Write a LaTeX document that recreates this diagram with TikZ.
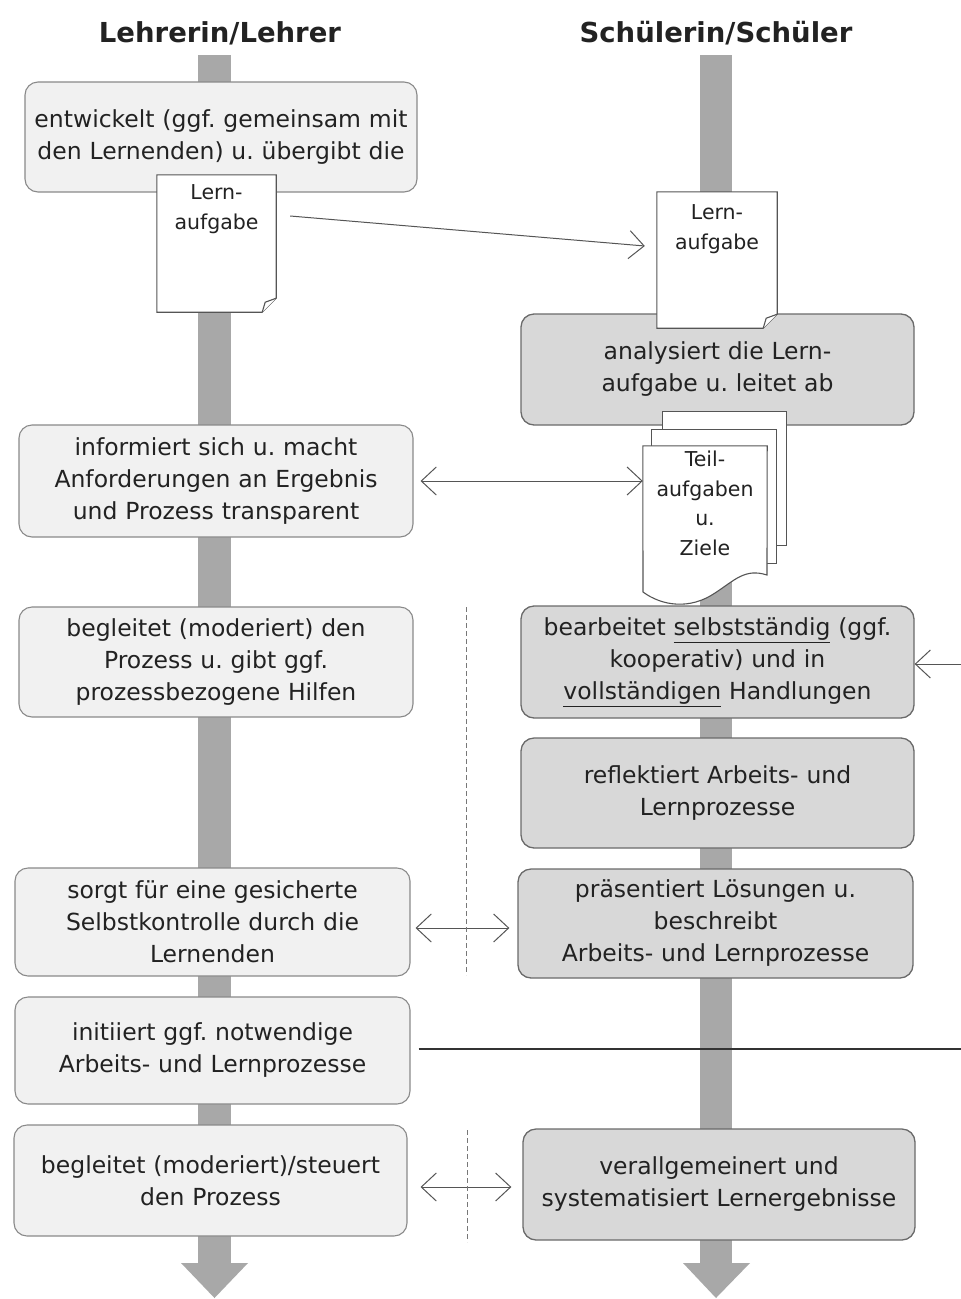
\documentclass[tikz,border=0pt]{standalone}
\usepackage{fontspec}
\setmainfont{DejaVu Sans}
\usetikzlibrary{arrows.meta}
\frenchspacing
\definecolor{txt}{HTML}{222222}
\definecolor{fillL}{HTML}{F1F1F1}
\definecolor{edgeL}{HTML}{8A8A8A}
\definecolor{fillR}{HTML}{D8D8D8}
\definecolor{edgeR}{HTML}{6A6A6A}
\definecolor{barc}{HTML}{A8A8A8}
\definecolor{linec}{HTML}{555555}
\tikzset{
  boxtext/.style={text=txt, font=\fontsize{23.5}{32}\selectfont, align=center, text width=386pt, inner sep=0pt},
  lbox/.style={boxtext, draw=edgeL, fill=fillL, rounded corners=13pt, line width=1.1pt},
  rbox/.style={boxtext, draw=edgeR, fill=fillR, rounded corners=13pt, line width=1.3pt},
  docshape/.style={inner sep=0pt},
  docline/.style={draw=linec, fill=white, line width=1.1pt},
  doctext/.style={text=txt, font=\fontsize{20.5}{29.5}\selectfont, align=center, inner sep=0pt},
  head/.style={text=txt, font=\fontsize{27.5}{30}\selectfont\bfseries},
  conn/.style={draw=linec, line width=1pt},
  barb/.style={-{Straight Barb[length=15pt, width=28pt, line width=1pt]}},
  dbarb/.style={{Straight Barb[length=15pt, width=28pt, line width=1pt]}-{Straight Barb[length=15pt, width=28pt, line width=1pt]}},
  dashv/.style={draw=linec!80, line width=0.8pt, dash pattern=on 5pt off 3pt},
  fbline/.style={draw=black!80, line width=2pt},
}
\begin{document}
\begin{tikzpicture}[x=1pt, y=-1pt]
\useasboundingbox (0,0) rectangle (961,1299);
\fill[white] (0,0) rectangle (961,1299);

% headers
\node[head] (hl) at (220,33) {Lehrerin/Lehrer};
\node[head] (hr) at (716,33) {Schülerin/Schüler};

% process bars
\fill[barc] (198,55) rectangle (231,1264);
\fill[barc] (181,1263) -- (248,1263) -- (214.5,1298) -- cycle;
\fill[barc] (700,55) rectangle (732,1264);
\fill[barc] (683,1263) -- (750,1263) -- (716,1298) -- cycle;

% left column
\node[lbox, minimum width=392pt, minimum height=110pt] (L1) at (221,137)
  {entwickelt (ggf. gemeinsam mit\\den Lernenden) u. übergibt die};
\node[lbox, minimum width=394pt, minimum height=112pt] (L2) at (216,481)
  {informiert sich u. macht\\Anforderungen an Ergebnis\\und Prozess transparent};
\node[lbox, minimum width=394pt, minimum height=110pt] (L3) at (216,662)
  {begleitet (moderiert) den\\Prozess u. gibt ggf.\\prozessbezogene Hilfen};
\node[lbox, minimum width=395pt, minimum height=108pt] (L4) at (212.5,922)
  {sorgt für eine gesicherte\\Selbstkontrolle durch die\\Lernenden};
\node[lbox, minimum width=395pt, minimum height=107pt] (L5) at (212.5,1050.5)
  {initiiert ggf. notwendige\\Arbeits- und Lernprozesse};
\node[lbox, minimum width=393pt, minimum height=111pt] (L6) at (210.5,1180.5)
  {begleitet (moderiert)/steuert\\den Prozess};

% right column
\node[rbox, minimum width=393pt, minimum height=111pt] (R1) at (717.5,369.5)
  {analysiert die Lern-\\aufgabe u. leitet ab};
\node[rbox, minimum width=393pt, minimum height=112pt] (R2) at (717.5,662)
  {bearbeitet \underline{selbstständig} (ggf.\\kooperativ) und in\\\underline{vollständigen} Handlungen};
\node[rbox, minimum width=393pt, minimum height=110pt] (R3) at (717.5,793)
  {reflektiert Arbeits- und\\Lernprozesse};
\node[rbox, minimum width=395pt, minimum height=109pt] (R4) at (715.5,923.5)
  {präsentiert Lösungen u.\\beschreibt\\Arbeits- und Lernprozesse};
\node[rbox, minimum width=392pt, minimum height=111pt] (R5) at (719,1184.5)
  {verallgemeinert und\\systematisiert Lernergebnisse};

% left document
\node[docshape, minimum width=119pt, minimum height=137pt] (docL) at (216.5,243.5) {};
\path[docline] (docL.north west) -- (docL.north east) -- ([yshift=14pt]docL.south east)
  -- ([xshift=-14pt]docL.south east) -- (docL.south west) -- cycle;
\path[docline] ([yshift=14pt]docL.south east) -- ([xshift=-11pt,yshift=10pt]docL.south east)
  -- ([xshift=-14pt]docL.south east);
\node[doctext, anchor=north] (docLt) at ([yshift=-10pt]docL.north) {Lern-\\aufgabe};

% right document
\node[docshape, minimum width=120pt, minimum height=136pt] (docR) at (717,260) {};
\path[docline] (docR.north west) -- (docR.north east) -- ([yshift=14pt]docR.south east)
  -- ([xshift=-14pt]docR.south east) -- (docR.south west) -- cycle;
\path[docline] ([yshift=14pt]docR.south east) -- ([xshift=-11pt,yshift=10pt]docR.south east)
  -- ([xshift=-14pt]docR.south east);
\node[doctext, anchor=north] (docRt) at ([yshift=-13pt]docR.north) {Lern-\\aufgabe};

% stacked documents
\node[docshape, minimum width=123pt, minimum height=133pt] (teilB) at (724.5,478.5) {};
\path[docline] (teilB.north west) rectangle (teilB.south east);
\node[docshape, minimum width=124pt, minimum height=133pt] (teilM) at (714,496.5) {};
\path[docline] (teilM.north west) rectangle (teilM.south east);
\node[docshape, minimum width=124pt, minimum height=130pt] (teilF) at (705,511) {};
\path[docline] (teilF.north west) -- (teilF.north east) -- (767,575)
  .. controls (745,568) and (735,580) .. (715,593)
  .. controls (690,610) and (662,606) .. (643,592) -- cycle;
\node[doctext, anchor=north] (teilT) at ([yshift=-5pt]teilF.north) {Teil-\\aufgaben\\u.\\Ziele};

% connectors
\draw[conn, barb] ([xshift=14pt,yshift=27.5pt]docL.east) -- ([xshift=-12pt,yshift=14pt]docR.west);
\draw[conn, dbarb] ([xshift=7pt]L2.east) -- (L2.east -| teilF.west);
\draw[conn, dbarb] ([xshift=5pt,yshift=-6pt]L4.east) -- ([xshift=-8pt,yshift=-6pt]L4.east -| R4.west);
\draw[conn, dbarb] ([xshift=13pt,yshift=-6.5pt]L6.east) -- ([xshift=-11pt,yshift=-6.5pt]L6.east -| R5.west);

\coordinate (dv1t) at (466,607);
\coordinate (dv1b) at (466,975);
\draw[dashv] (dv1t) -- (dv1b);
\coordinate (dv2t) at (467,1130);
\coordinate (dv2b) at (467,1242);
\draw[dashv] (dv2t) -- (dv2b);

% feedback loop (runs out past the right edge)
\coordinate (fb1) at (968,1049);
\coordinate (fb2) at (968,664);
\draw[fbline] ([xshift=8pt,yshift=1.5pt]L5.east) -- (fb1);
\draw[conn, barb] (fb1) -- (fb2) -- (fb2 -| R2.east);
\end{tikzpicture}
\end{document}
